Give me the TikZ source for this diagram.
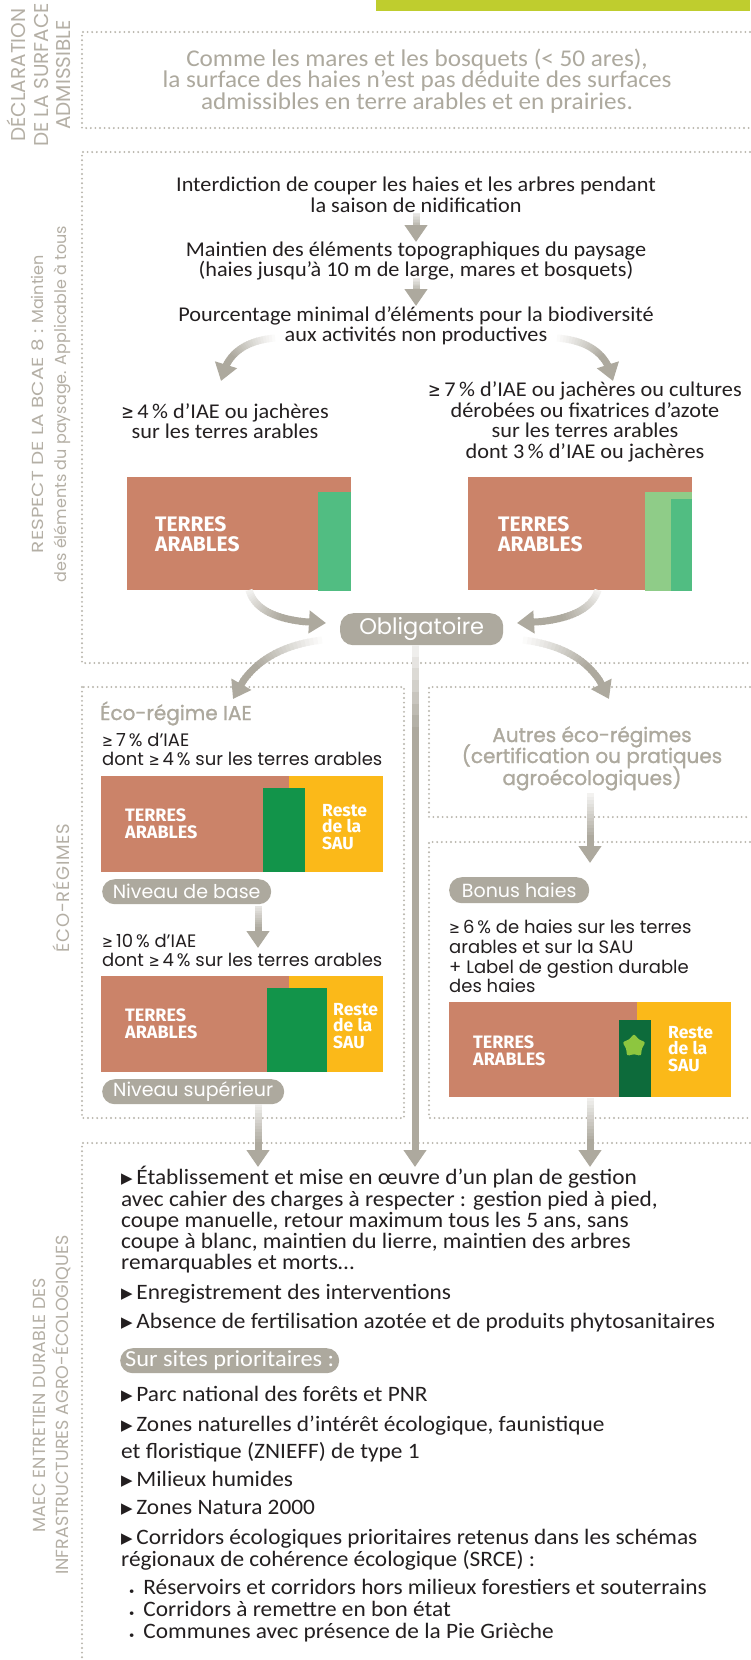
\documentclass[tikz,border=0pt]{standalone}
\usepackage{fontspec}
\usepackage{graphicx}
\setmainfont{Carlito}
\newfontfamily\condA[FakeStretch=1.05]{Carlito}
\newfontfamily\condB[FakeStretch=1.06]{Carlito}
\newfontfamily\pop{Poppins}
\newfontfamily\popls[LetterSpace=4]{Poppins}
\newfontfamily\popwide[FakeStretch=1.25]{Poppins}
\newfontfamily\popb[FakeBold=1.2]{Poppins}
\newfontfamily\fira{Fira Sans}
\newfontfamily\dejavu{DejaVu Sans}
\usetikzlibrary{arrows.meta,calc,shapes.geometric}
\definecolor{ag}{HTML}{ADA99E}
\definecolor{lab}{HTML}{B4AFA5}
\definecolor{dotc}{HTML}{B8B4AB}
\definecolor{terra}{HTML}{CB8369}
\definecolor{yel}{HTML}{FBB919}
\definecolor{dg}{HTML}{12944A}
\definecolor{mg}{HTML}{51BD82}
\definecolor{lg}{HTML}{8FCC88}
\definecolor{bg}{HTML}{0D6B3B}
\definecolor{starg}{HTML}{8DC63F}
\definecolor{topbar}{HTML}{BFCD2E}
\definecolor{txt}{HTML}{231F20}
\newcommand\tri{\raisebox{0.8pt}{\dejavu\fontsize{15}{15}\selectfont ▶}}
\newcommand\gte{\scalebox{0.72}[0.9]{\dejavu ≥}}
\newcommand\dotb{{\fontsize{10}{10}\selectfont •}}
% gradient arrow: #1 start, #2 control, #3 end, #4 fraction where full colour reached,
% #5 start percent, #6 segments, #7 where the final solid piece begins
\newcommand\garrow[7]{%
  \foreach \k in {1,...,#6}{%
    \pgfmathsetmacro\ta{(\k-1)/#6*#7}%
    \pgfmathsetmacro\tb{min(#7+0.01,(\k+0.3)/#6*#7)}%
    \pgfmathtruncatemacro\pc{min(100,#5+(100-#5)*\ta/#4)}%
    \draw[line width=7pt, draw=ag!\pc!white]
      ($($(#1)!\ta!(#2)$)!\ta!($(#2)!\ta!(#3)$)$) -- ($($(#1)!\tb!(#2)$)!\tb!($(#2)!\tb!(#3)$)$);
  }%
  \draw[line width=7pt, draw=ag, fill=ag, -{Triangle[width=22pt,length=17pt]}]
    ($($(#1)!#7!(#2)$)!#7!($(#2)!#7!(#3)$)$) -- (#3);
}
\begin{document}
\begin{tikzpicture}[x=1pt,y=1pt,
  dotline/.style={draw=dotc, line width=2.1pt, line cap=round, dash pattern=on 0pt off 4.6pt},
  pill/.style={fill=ag, rounded corners=12.5pt, text=white, inner sep=0pt, anchor=north west},
  sidelabel/.style={rotate=90, align=center, text=lab, inner sep=0pt},
  ctext/.style={text=txt, align=center, inner sep=0pt, font=\condB\fontsize{21}{20.5}\selectfont},
  ltext/.style={text=txt, anchor=base west, inner sep=0pt},
  barlab/.style={text=white, align=left, anchor=west, inner sep=0pt},
  condensed/.style={font=\condB\fontsize{22}{21.3}\selectfont},
  geo/.style={font=\pop\fontsize{18}{19}\selectfont},
  greyhead/.style={anchor=base, inner sep=0pt, text=ag, font=\popb\fontsize{20}{20}\selectfont},
]
\useasboundingbox (0,0) rectangle (750,-1660);
\fill[white] (0,0) rectangle (750,-1660);
\fill[topbar] (376,0) rectangle (750,-11);

% ---------- dotted frames ----------
\draw[dotline] (750,-32) -- (82,-32) -- (82,-128) -- (750,-128);
\draw[dotline] (750,-152) -- (82,-152) -- (82,-663) -- (750,-663);
\draw[dotline] (82,-687) rectangle (404,-1118);
\draw[dotline] (750,-687) -- (429,-687) -- (429,-817) -- (750,-817);
\draw[dotline] (750,-842) -- (429,-842) -- (429,-1118) -- (750,-1118);
\draw[dotline] (750,-1143) -- (82,-1143) -- (82,-1660);

% ---------- side labels ----------
\node[sidelabel, font=\pop\fontsize{20}{22.5}\selectfont] (l1) at (39,-75) {DÉCLARATION\\DE LA SURFACE\\ADMISSIBLE};
\node[sidelabel, font=\pop\fontsize{16}{23}\selectfont] (l2) at (51,-404) {{\popwide RESPECT DE LA BCAE 8 :} Maintien\\des éléments du paysage. Applicable à tous};
\node[sidelabel, font=\popls\fontsize{18}{23}\selectfont] (l3) at (61,-888) {ÉCO-RÉGIMES};
\node[sidelabel, font=\pop\fontsize{17.5}{23}\selectfont] (l4) at (52,-1405) {MAEC ENTRETIEN DURABLE DES\\INFRASTRUCTURES AGRO-ÉCOLOGIQUES};

% ---------- déclaration ----------
\node[align=center, inner sep=0pt, text=ag, font=\condA\fontsize{24}{20.5}\selectfont] (decl) at (417,-81)
  {Comme les mares et les bosquets (< 50 ares),\\la surface des haies n’est pas déduite des surfaces\\admissibles en terre arables et en prairies.};

% ---------- BCAE 8 ----------
\node[ctext] (t1) at (416,-195) {Interdiction de couper les haies et les arbres pendant\\la saison de nidification};
\node[ctext] (t2) at (416,-261) {Maintien des éléments topographiques du paysage\\(haies jusqu’à 10 m de large, mares et bosquets)};
\node[ctext] (t3) at (416,-326) {Pourcentage minimal d’éléments pour la biodiversité\\aux activités non productives};
\node[ctext] (t4) at (225,-421) {\gte\,4\,\% d’IAE ou jachères\\sur les terres arables};
\node[ctext] (t5) at (585,-422) {\gte\,7\,\% d’IAE ou jachères ou cultures\\dérobées ou fixatrices d’azote\\sur les terres arables\\dont 3\,\% d’IAE ou jachères};

\fill[terra] (127,-477) rectangle (351,-590);
\fill[mg] (318,-492) rectangle (351,-591);
\node[barlab, font=\fira\bfseries\fontsize{21}{20}\selectfont] (ta1) at (155,-534) {TERRES\\ARABLES};
\fill[terra] (468,-477) rectangle (692,-590);
\fill[lg] (645,-492) rectangle (692,-591);
\fill[mg] (671,-499) rectangle (692,-591);
\node[barlab, font=\fira\bfseries\fontsize{21}{20}\selectfont] (ta2) at (498,-534) {TERRES\\ARABLES};

\node[pill, minimum width=163pt, minimum height=32pt, rounded corners=13pt, font=\pop\fontsize{22.5}{22.5}\selectfont] (obl) at (340,-613) {Obligatoire};

% ---------- éco-régime IAE ----------
\node[greyhead, anchor=base west] (eh) at (100,-720) {Éco-régime IAE};
\node[ltext, geo] (e1) at (102,-746) {\gte\,7\,\% d’IAE};
\node[ltext, geo] (e2) at (102,-765) {dont \gte\,4\,\% sur les terres arables};
\fill[terra] (101,-776) rectangle (289,-872);
\fill[yel] (289,-776) rectangle (383,-872);
\fill[dg] (263,-788) rectangle (305,-872);
\node[barlab, font=\fira\bfseries\fontsize{18}{16.7}\selectfont] (ta3) at (125,-824) {TERRES\\ARABLES};
\node[barlab, font=\fira\bfseries\fontsize{17.5}{16.5}\selectfont] (rs1) at (322,-827) {Reste\\de la\\SAU};
\node[pill, minimum width=169pt, minimum height=25pt, font=\pop\fontsize{19}{19}\selectfont] (nb) at (102,-879) {Niveau de base};

\node[ltext, geo] (e3) at (102,-947) {\gte\,10\,\% d’IAE};
\node[ltext, geo] (e4) at (102,-966) {dont \gte\,4\,\% sur les terres arables};
\fill[terra] (101,-976) rectangle (289,-1072);
\fill[yel] (289,-976) rectangle (383,-1072);
\fill[dg] (267,-988) rectangle (327,-1072);
\node[barlab, font=\fira\bfseries\fontsize{18}{16.7}\selectfont] (ta4) at (125,-1024) {TERRES\\ARABLES};
\node[barlab, font=\fira\bfseries\fontsize{17.5}{16.5}\selectfont] (rs2) at (333,-1026) {Reste\\de la\\SAU};
\node[pill, minimum width=182pt, minimum height=25pt, font=\pop\fontsize{19}{19}\selectfont] (ns) at (102,-1079) {Niveau supérieur};

% ---------- autres éco-régimes ----------
\node[greyhead] (o1) at (592,-742) {Autres éco-régimes};
\node[greyhead] (o2) at (592,-763) {(certification ou pratiques};
\node[greyhead] (o3) at (592,-785) {agroécologiques)};

% ---------- bonus haies ----------
\node[pill, minimum width=140pt, minimum height=26pt, font=\pop\fontsize{19}{19}\selectfont] (bh) at (449,-877) {Bonus haies};
\node[ltext, geo] (b1) at (449,-933) {\gte\,6\,\% de haies sur les terres};
\node[ltext, geo] (b2) at (449,-953) {arables et sur la SAU};
\node[ltext, geo] (b3) at (449,-973) {+ Label de gestion durable};
\node[ltext, geo] (b4) at (449,-992) {des haies};
\fill[terra] (449,-1002) rectangle (637,-1097);
\fill[yel] (637,-1002) rectangle (731,-1097);
\fill[bg] (619,-1020) rectangle (651,-1097);
\node[star, star points=5, star point ratio=1.7, fill=starg, minimum size=26pt, inner sep=0pt, rounded corners=3.5pt] (st) at (634,-1046) {};
\node[barlab, font=\fira\bfseries\fontsize{18}{16.7}\selectfont] (ta5) at (473,-1051) {TERRES\\ARABLES};
\node[barlab, font=\fira\bfseries\fontsize{17.5}{16.5}\selectfont] (rs3) at (668,-1049) {Reste\\de la\\SAU};

% ---------- MAEC ----------
\node[ltext, condensed] (m1) at (121,-1184) {\tri\,Établissement et mise en œuvre d’un plan de gestion};
\node[ltext, condensed] (m2) at (121,-1206) {avec cahier des charges à respecter : gestion pied à pied,};
\node[ltext, condensed] (m3) at (121,-1227) {coupe manuelle, retour maximum tous les 5 ans, sans};
\node[ltext, condensed] (m4) at (121,-1248) {coupe à blanc, maintien du lierre, maintien des arbres};
\node[ltext, condensed] (m5) at (121,-1269) {remarquables et morts…};
\node[ltext, condensed] (m6) at (121,-1299) {\tri\,Enregistrement des interventions};
\node[ltext, condensed] (m7) at (121,-1328) {\tri\,Absence de fertilisation azotée et de produits phytosanitaires};
\node[pill, minimum width=219pt, minimum height=25pt, font=\condB\fontsize{23}{23}\selectfont] (sp) at (120,-1348) {Sur sites prioritaires :};
\node[ltext, condensed] (p1) at (121,-1401) {\tri\,Parc national des forêts et PNR};
\node[ltext, condensed] (p2) at (121,-1431) {\tri\,Zones naturelles d’intérêt écologique, faunistique};
\node[ltext, condensed] (p3) at (121,-1458) {et floristique (ZNIEFF) de type 1};
\node[ltext, condensed] (p4) at (121,-1486) {\tri\,Milieux humides};
\node[ltext, condensed] (p5) at (121,-1514) {\tri\,Zones Natura 2000};
\node[ltext, condensed] (p6) at (121,-1544) {\tri\,Corridors écologiques prioritaires retenus dans les schémas};
\node[ltext, condensed] (p7) at (121,-1566) {régionaux de cohérence écologique (SRCE) :};
\node[ltext, condensed] (p8) at (129,-1594) {\dotb\, Réservoirs et corridors hors milieux forestiers et souterrains};
\node[ltext, condensed] (p9) at (129,-1616) {\dotb\, Corridors à remettre en bon état};
\node[ltext, condensed] (p10) at (129,-1638) {\dotb\, Communes avec présence de la Pie Grièche};

% ---------- arrow coordinates ----------
\coordinate (a1s) at (416,-213); \coordinate (a1e) at (416,-242); \coordinate (a1c) at ($(a1s)!.5!(a1e)$);
\coordinate (a2s) at (416,-278); \coordinate (a2e) at (416,-306); \coordinate (a2c) at ($(a2s)!.5!(a2e)$);
\coordinate (a3s) at (275,-338); \coordinate (a3c) at (228,-342); \coordinate (a3e) at (221,-381);
\coordinate (a4s) at (557,-338); \coordinate (a4c) at (606,-342); \coordinate (a4e) at (613,-381);
\coordinate (a5s) at (249,-590); \coordinate (a5c) at (258,-622); \coordinate (a5e) at (326,-623);
\coordinate (a6s) at (598,-590); \coordinate (a6c) at (588,-622); \coordinate (a6e) at (517,-623);
\coordinate (a7s) at (322,-640); \coordinate (a7c) at (255,-648); \coordinate (a7e) at (233,-699);
\coordinate (a8s) at (523,-640); \coordinate (a8c) at (590,-648); \coordinate (a8e) at (609,-699);
\coordinate (a9s) at (415,-645); \coordinate (a9e) at (415,-1167); \coordinate (a9c) at ($(a9s)!.5!(a9e)$);
\coordinate (a10s) at (258,-906); \coordinate (a10e) at (258,-948); \coordinate (a10c) at ($(a10s)!.5!(a10e)$);
\coordinate (a11s) at (590,-793); \coordinate (a11e) at (590,-863); \coordinate (a11c) at ($(a11s)!.5!(a11e)$);
\coordinate (a12s) at (258,-1104); \coordinate (a12e) at (258,-1167); \coordinate (a12c) at ($(a12s)!.5!(a12e)$);
\coordinate (a13s) at (590,-1098); \coordinate (a13e) at (590,-1167); \coordinate (a13c) at ($(a13s)!.5!(a13e)$);

\garrow{a1s}{a1c}{a1e}{0.5}{25}{8}{0.4}
\garrow{a2s}{a2c}{a2e}{0.5}{25}{8}{0.4}
\garrow{a3s}{a3c}{a3e}{0.6}{5}{24}{0.8}
\garrow{a4s}{a4c}{a4e}{0.6}{5}{24}{0.8}
\garrow{a5s}{a5c}{a5e}{0.6}{15}{24}{0.82}
\garrow{a6s}{a6c}{a6e}{0.6}{15}{24}{0.82}
\garrow{a7s}{a7c}{a7e}{0.6}{5}{24}{0.8}
\garrow{a8s}{a8c}{a8e}{0.6}{5}{24}{0.8}
\garrow{a9s}{a9c}{a9e}{0.15}{20}{40}{0.9}
\garrow{a10s}{a10c}{a10e}{0.5}{30}{10}{0.55}
\garrow{a11s}{a11c}{a11e}{0.6}{15}{14}{0.7}
\garrow{a12s}{a12c}{a12e}{0.6}{20}{14}{0.7}
\garrow{a13s}{a13c}{a13e}{0.6}{20}{14}{0.7}
\end{tikzpicture}
\end{document}
